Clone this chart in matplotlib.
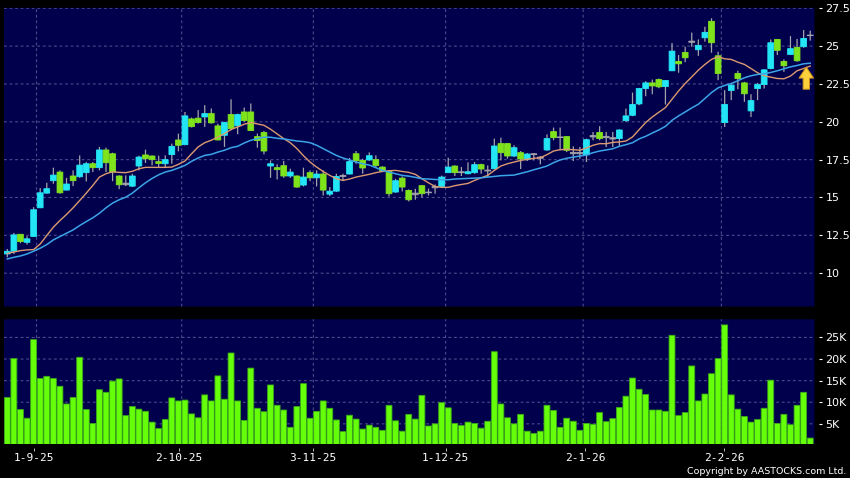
import matplotlib
matplotlib.use("Agg")
import matplotlib.pyplot as plt

opens = [11.27,11.45,12.57,12.04,12.42,14.32,15.29,16.11,16.68,15.49,16.42,16.37,16.64,17.23,16.97,18.14,17.89,16.42,15.84,15.75,
         17.08,17.81,17.74,17.37,17.23,17.83,18.80,18.49,20.19,20.24,20.32,20.54,19.73,19.11,20.48,19.73,20.65,20.65,19.02,19.29,
         17.08,16.97,17.10,16.42,16.42,15.82,16.64,16.30,16.55,15.22,15.42,16.39,16.55,17.89,17.45,17.48,17.50,17.01,16.72,15.36,
         16.28,15.47,15.18,15.78,15.31,15.73,15.73,16.64,17.08,16.64,16.57,16.64,17.17,16.75,16.90,18.56,18.56,17.74,17.96,17.50,
         17.83,17.67,18.14,19.35,19.00,19.02,17.98,17.89,17.81,19.00,19.29,18.95,18.95,18.89,20.08,20.43,21.18,22.20,22.57,22.79,
         22.33,23.37,23.99,24.58,25.25,24.76,25.55,26.64,24.36,19.95,22.07,23.19,22.57,20.72,22.20,22.46,23.52,25.44,23.99,24.45,
         24.91,24.96,25.69]
closes = [11.45,12.53,12.09,12.27,14.19,15.31,15.58,16.48,15.31,15.89,16.11,17.14,17.23,16.97,18.14,17.30,16.68,15.84,15.95,16.42,
          17.67,17.56,17.50,17.25,17.50,18.38,18.45,20.39,19.68,19.95,20.54,19.93,18.80,19.95,19.55,20.48,20.08,19.42,18.76,18.07,
          17.23,16.84,16.42,16.68,15.69,16.35,16.30,16.55,15.49,15.42,16.39,16.46,17.37,17.43,16.95,17.76,17.12,16.75,15.25,16.11,
          15.69,14.85,15.29,15.25,15.36,15.64,16.35,17.01,16.64,16.70,16.70,17.17,16.88,16.81,18.40,17.96,17.74,18.29,17.54,17.87,
          17.89,17.59,18.89,18.95,18.97,18.12,17.89,17.98,18.82,19.09,18.89,19.04,18.86,19.46,20.39,21.14,22.20,22.57,22.37,22.31,
          22.73,24.67,23.83,24.23,25.33,25.05,25.91,25.22,23.19,21.14,22.42,22.86,21.85,21.40,22.46,23.43,25.22,24.72,23.70,24.83,
          24.03,25.51,25.73]
highs = [11.60,12.66,12.57,12.44,14.36,15.62,15.97,16.97,16.79,16.30,16.79,17.78,17.34,17.34,18.34,18.29,17.96,16.46,16.46,16.57,
         17.76,18.16,17.78,17.76,17.78,18.56,19.22,20.65,20.28,20.77,21.10,20.88,19.88,20.00,21.49,20.54,20.94,21.21,19.22,19.40,
         17.45,17.19,17.41,16.90,16.46,16.97,16.79,16.79,16.79,15.69,16.57,16.57,17.61,18.07,17.56,17.98,17.78,17.06,16.79,16.24,
         16.39,15.53,15.58,15.82,15.58,15.86,16.44,17.63,17.12,17.01,17.32,17.34,17.23,17.12,18.89,18.95,18.60,18.45,18.07,17.94,
         17.94,17.74,19.17,19.62,19.62,19.04,18.38,18.34,18.89,19.33,19.71,19.33,19.33,19.50,20.87,21.93,22.24,22.68,22.79,22.86,
         22.73,25.20,24.41,24.96,25.89,25.44,26.28,26.84,24.63,22.09,22.53,23.37,22.64,21.82,22.57,23.48,25.44,25.47,24.12,25.66,
         25.47,26.06,26.02]
lows = [11.05,11.27,11.98,11.89,12.42,14.32,15.25,15.91,15.25,15.47,15.75,16.30,16.06,16.68,16.79,16.68,16.08,15.55,15.75,15.69,
        16.79,17.28,17.12,17.01,17.01,17.23,18.05,18.45,19.62,19.88,19.66,19.88,18.78,18.34,19.44,19.18,20.00,19.40,18.29,17.85,
        16.30,16.19,16.30,16.30,15.64,15.73,16.08,15.73,15.13,15.09,15.36,16.08,16.53,17.23,16.57,17.41,16.97,16.68,15.07,15.31,
        15.40,14.74,14.85,15.02,15.13,15.25,15.69,16.64,16.42,16.42,16.53,16.57,16.57,16.35,16.86,17.45,17.56,17.67,16.88,17.41,
        17.45,17.19,18.07,18.78,18.12,18.00,17.41,17.56,17.34,18.78,18.78,18.33,18.33,18.40,19.99,20.37,21.09,21.69,21.82,22.22,
        21.14,23.35,23.24,23.94,24.96,24.36,25.29,24.56,22.75,19.66,21.43,22.15,21.32,20.32,21.43,22.20,23.46,24.41,23.30,24.41,
        23.96,24.89,25.36]
ma_short = [11.30,11.40,11.49,11.54,11.56,11.93,12.49,13.04,13.48,13.88,14.32,14.80,15.29,15.80,16.35,16.57,16.70,16.66,16.64,16.73,
            16.90,16.99,16.99,16.99,16.99,17.01,17.19,17.41,17.89,18.34,18.62,18.78,19.00,19.22,19.49,19.66,19.84,19.95,19.86,19.77,
            19.51,19.20,18.89,18.62,18.23,17.76,17.34,17.01,16.72,16.46,16.24,16.13,16.22,16.35,16.44,16.53,16.64,16.72,16.77,16.79,
            16.72,16.66,16.53,16.24,15.97,15.73,15.67,15.67,15.78,15.86,15.93,16.13,16.30,16.46,16.79,17.08,17.23,17.34,17.45,17.52,
            17.59,17.63,17.83,18.07,18.16,18.18,18.16,18.12,18.27,18.45,18.56,18.55,18.64,18.67,18.73,19.00,19.48,19.95,20.32,20.63,
            20.94,21.49,22.04,22.53,22.97,23.41,23.79,24.12,24.30,24.16,24.12,23.94,23.79,23.52,23.24,23.04,22.95,22.86,22.84,23.02,
            23.37,23.52,23.68]
ma_long = [10.94,11.05,11.14,11.27,11.45,11.65,11.89,12.20,12.42,12.64,12.86,13.15,13.41,13.66,13.96,14.32,14.63,14.85,15.02,15.29,
           15.64,15.97,16.26,16.50,16.68,16.79,16.95,17.12,17.39,17.61,17.78,17.85,18.00,18.12,18.29,18.38,18.60,18.78,18.89,18.98,
           18.98,18.91,18.87,18.80,18.73,18.69,18.62,18.45,18.23,18.00,17.78,17.61,17.48,17.34,17.23,17.14,16.97,16.79,16.68,16.57,
           16.46,16.41,16.33,16.24,16.22,16.19,16.17,16.17,16.22,16.24,16.26,16.28,16.30,16.35,16.39,16.44,16.46,16.48,16.59,16.70,
           16.83,16.95,17.08,17.30,17.48,17.59,17.67,17.74,17.81,17.96,18.07,18.14,18.22,18.38,18.49,18.62,18.87,19.04,19.26,19.46,
           19.70,20.10,20.39,20.65,20.92,21.16,21.54,21.93,22.24,22.40,22.53,22.71,22.91,23.04,23.13,23.17,23.26,23.37,23.50,23.63,
           23.72,23.83,23.87]
volumes = [11.1,20.1,8.3,6.3,24.5,15.5,16.0,15.5,13.7,9.6,11.1,20.4,8.3,5.1,12.9,12.3,14.9,15.4,6.9,9.0,
           8.4,7.9,5.4,3.9,6.0,11.0,10.3,10.5,7.3,6.4,11.7,10.3,16.1,10.7,21.4,10.3,5.8,17.9,8.6,7.8,
           14.0,9.3,8.2,4.2,9.0,14.3,6.3,7.9,10.3,8.6,5.9,3.2,7.0,6.1,3.8,4.7,4.2,3.5,9.3,5.7,
           3.3,7.2,6.1,11.6,4.5,5.0,9.9,8.7,5.1,4.6,5.4,5.1,4.0,5.6,21.7,9.6,6.4,5.0,7.2,3.3,
           2.8,3.3,9.3,8.1,4.2,6.3,5.6,3.5,5.1,4.9,7.6,5.5,6.2,8.8,11.4,15.6,13.0,11.8,8.2,8.2,
           7.9,25.5,6.9,7.6,18.4,10.3,11.9,16.6,20.1,27.9,11.7,8.4,6.7,5.4,6.0,8.6,15.1,5.1,7.2,4.8,
           9.3,12.3,1.7]

price_ticks = [10, 12.5, 15, 17.5, 20, 22.5, 25, 27.5]
price_labels = ["10", "12.5", "15", "17.5", "20", "22.5", "25", "27.5"]
volume_ticks = [5, 10, 15, 20, 25]
volume_labels = ["5K", "10K", "15K", "20K", "25K"]
date_tick_pos = [4.0, 26.1, 46.4, 66.6, 87.8, 108.9]
date_labels = ["1-9-25", "2-10-25", "3-11-25", "1-12-25", "2-1-26", "2-2-26"]
date_grid_pos = [4.44, 26.5, 46.5, 66.6, 87.5, 108.5]

NAVY = "#00004c"
CYAN = "#22e6f6"
GREEN = "#7fe31c"
WICK = "#a4a4ac"
GRID = "#4c4c8c"
W, H = 850, 478

plt.rcParams["font.family"] = "DejaVu Sans"
plt.rcParams["path.snap"] = False
fig = plt.figure(figsize=(W / 100, H / 100), dpi=100, facecolor="black")

def panel(left, top, right, bottom):
    return fig.add_axes([left / W, 1 - bottom / H, (right - left) / W, (bottom - top) / H], facecolor=NAVY)

ax = panel(4, 7.8, 814.5, 306.5)
vx = panel(4, 319.3, 814.5, 443.5)

for a in (ax, vx):
    a.set_xlim(-0.5, 122.65)
    for s in a.spines.values():
        s.set_visible(False)
    a.spines["right"].set_visible(True)
    a.spines["right"].set_color("none")
    a.spines["right"].set_position(("outward", 3))
    a.yaxis.tick_right()
    a.tick_params(axis="y", colors="white", length=2.5, width=0.8, pad=2.5, labelsize=8)
    a.set_axisbelow(True)
    for g in date_grid_pos:
        a.axvline(g, color=GRID, lw=0.8, ls=(0, (2.5, 2.5)), zorder=0.5)

ax.set_ylim(7.8, 27.53)
ax.set_yticks(price_ticks, price_labels)
ax.set_xticks([])
ax.grid(axis="y", color=GRID, lw=0.8, ls=(0, (2.5, 2.5)))

vx.set_ylim(0.45, 29.2)
vx.set_yticks(volume_ticks, volume_labels)
vx.grid(axis="y", color=GRID, lw=0.8, ls=(0, (2.5, 2.5)))
vx.spines["bottom"].set_visible(True)
vx.spines["bottom"].set_color("none")
vx.spines["bottom"].set_position(("outward", 3))
vx.set_xticks(date_tick_pos, date_labels, family="DejaVu Sans Mono")
vx.tick_params(axis="x", colors="#b8b8b8", labelcolor="white", length=2.5, width=0.7, pad=1.5, labelsize=8)

# candles
idx = list(range(len(opens)))
ax.vlines(idx, lows, highs, color=WICK, lw=0.9, zorder=2)
for i, o, c in zip(idx, opens, closes):
    if abs(c - o) < 0.12:
        ax.bar(i, abs(c - o), bottom=min(o, c), width=0.9, color=WICK, edgecolor=WICK, lw=0.6, zorder=3)
    else:
        col = CYAN if c > o else GREEN
        ax.bar(i, abs(c - o), bottom=min(o, c), width=0.88, color=col, edgecolor=col, lw=0.6, zorder=3)

ax.plot(idx, ma_short, color="#dc9a70", lw=1.0, zorder=4)
ax.plot(idx, ma_long, color="#3ca4e8", lw=1.1, zorder=4)

# marker arrow pointing at the short average's last value
ax.annotate("", xy=(121.4, 23.62), xytext=(0, -16), textcoords="offset points",
            arrowprops=dict(width=4.6, headwidth=10.5, headlength=8, shrink=0,
                            facecolor="#ffd23c", edgecolor="#c89020", lw=0.7), zorder=5)

# volume
vx.bar(idx, volumes, width=0.9, color="#66ff0a", edgecolor="#3aa818", lw=0.6, zorder=3, bottom=0)

fig.text(846 / W, 1 - 471 / H, "Copyright by AASTOCKS.com Ltd.", color="white",
         fontsize=6.8, ha="right", va="center")

fig.savefig("out.png", dpi=100, facecolor="black")
